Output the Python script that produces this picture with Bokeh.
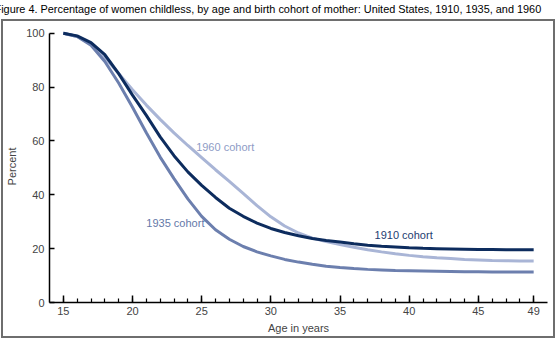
from bokeh.plotting import figure
from bokeh.models import FixedTicker, ColumnDataSource
from bokeh.layouts import column
from bokeh.core.properties import value
from bokeh.embed import file_html
from bokeh.resources import INLINE

ages = list(range(15, 50))
cohort_1910 = [100, 99, 96.5, 92, 85, 77, 69.5, 61.5, 54.5, 48.5, 43.5, 39, 35, 32, 29.5,
               27.5, 26, 24.8, 23.8, 23, 22.5, 21.8, 21.3, 20.9, 20.6, 20.3, 20.1, 20, 19.9,
               19.8, 19.7, 19.7, 19.6, 19.6, 19.6]
cohort_1935 = [100, 98.8, 95.5, 89.5, 81.5, 72.5, 63, 54, 46, 38.5, 32, 27, 23.5, 20.8, 18.8,
               17.3, 16, 15, 14.2, 13.5, 13, 12.6, 12.3, 12.1, 11.9, 11.8, 11.7, 11.6, 11.5,
               11.4, 11.4, 11.3, 11.3, 11.3, 11.3]
cohort_1960 = [100, 98.8, 96, 91, 85, 79, 73.3, 68, 63, 58.3, 53.8, 49.3, 45, 40.5, 36,
               31.8, 28.4, 25.8, 23.9, 22.6, 21.5, 20.5, 19.6, 18.8, 18.1, 17.5, 17, 16.6,
               16.3, 16, 15.8, 15.6, 15.5, 15.4, 15.4]
x_ticks = [15, 20, 25, 30, 35, 40, 45, 49]
y_ticks = [0, 20, 40, 60, 80, 100]
label_texts = ["1960 cohort", "1935 cohort", "1910 cohort"]
title_text = ("Figure 4. Percentage of women childless, by age and birth cohort of mother: "
              "United States, 1910, 1935, and 1960")

FONT = "Liberation Sans"

# header strip carrying the figure title
head = figure(width=560, height=19, x_range=(0, 1), y_range=(0, 1),
              output_backend="svg", toolbar_location=None,
              x_axis_location=None, y_axis_location=None, min_border=0)
head.outline_line_color = None
head.grid.visible = False
head.title.text = title_text
head.title.text_font = FONT
head.title.text_font_size = "10.9px"
head.title.text_font_style = "normal"
head.title.text_color = "#000000"
head.title.align = "left"
head.title.offset = -55
head.title.standoff = 0

# main chart
p = figure(width=560, height=324, x_range=(14, 50), y_range=(0, 101), title=None,
           output_backend="svg", toolbar_location=None,
           min_border_left=49, min_border_right=13, min_border_top=11, min_border_bottom=41)
p.stylesheets = [":host { position: relative; } "
                 ":host::after { content: ''; position: absolute; left: 1px; top: 0px; "
                 "width: 554px; height: 319px; border: 2px solid #6e6e6e; "
                 "pointer-events: none; }"]
p.outline_line_color = None
p.grid.visible = False

p.line(ages, cohort_1960, line_color="#a9b5d6", line_width=3)
p.line(ages, cohort_1935, line_color="#6c7fae", line_width=3)
p.line(ages, cohort_1910, line_color="#0d2c5e", line_width=3)

src = ColumnDataSource(dict(x=[24.6, 21.0, 37.5], y=[57.6, 29.7, 24.9], t=label_texts,
                            c=["#8e9cc6", "#6478a8", "#1d3c70"]))
p.text(x="x", y="y", text="t", text_color="c", source=src, text_font=value(FONT),
       text_font_size="11px", text_align="left", text_baseline="middle")

xa = p.xaxis[0]
xa.ticker = FixedTicker(ticks=x_ticks, minor_ticks=ages)
xa.axis_label = "Age in years"
xa.axis_label_text_font = FONT
xa.axis_label_text_font_size = "11px"
xa.axis_label_text_font_style = "normal"
xa.axis_label_standoff = 4
xa.major_label_text_font = FONT
xa.major_label_text_font_size = "11px"
xa.major_tick_in = 7
xa.major_tick_out = 0
xa.minor_tick_in = 4
xa.minor_tick_out = 0
xa.major_label_standoff = 4
xa.axis_line_width = 1.5
xa.major_tick_line_width = 1.5
xa.minor_tick_line_width = 1.2

ya = p.yaxis[0]
ya.ticker = FixedTicker(ticks=y_ticks)
ya.bounds = (0, 100)
ya.axis_label = "Percent"
ya.axis_label_text_font = FONT
ya.axis_label_text_font_size = "11px"
ya.axis_label_text_font_style = "normal"
ya.axis_label_standoff = 5
ya.major_label_text_font = FONT
ya.major_label_text_font_size = "11px"
ya.major_tick_in = 5
ya.major_tick_out = 0
ya.minor_tick_line_color = None
ya.major_label_standoff = 5
ya.axis_line_width = 1.5
ya.major_tick_line_width = 1.5

layout = column(head, p, spacing=0)
open("out.html", "w").write(file_html(layout, INLINE))
